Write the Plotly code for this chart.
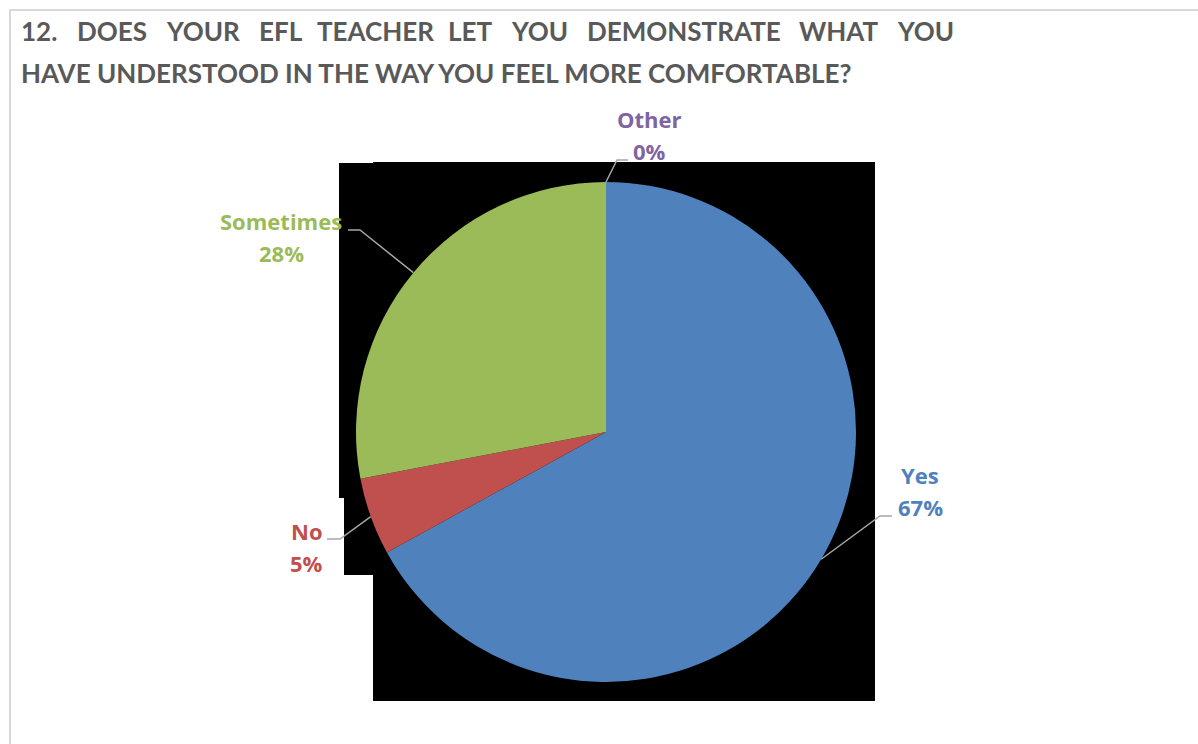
import math
import plotly.graph_objects as go

# Survey answers (percent of respondents)
categories = ["Yes", "No", "Sometimes", "Other"]
percents = [67, 5, 28, 0]
colors = ["#4F81BD", "#C0504D", "#9BBB59", "#8064A2"]

title_line1 = ["12.", "DOES", "YOUR", "EFL", "TEACHER", "LET", "YOU", "DEMONSTRATE", "WHAT", "YOU"]
title_line2 = "HAVE UNDERSTOOD IN THE WAY YOU FEEL MORE COMFORTABLE?"

W, H = 1198, 744
TITLE_FONT = "Lato, Open Sans, sans-serif"
LABEL_FONT = "Open Sans, sans-serif"
TITLE_SIZE = 26


def px(x):
    return x / W


def py(y):
    return 1 - y / H


# Pie placement in pixels
CX, CY, R = 606, 432, 250

fig = go.Figure()
fig.add_trace(go.Pie(
    labels=categories,
    values=percents,
    sort=False,
    direction="clockwise",
    rotation=0,
    marker=dict(colors=colors, line=dict(width=0)),
    textinfo="none",
    hoverinfo="label+percent",
    showlegend=False,
    domain=dict(x=[px(CX - R), px(CX + R)], y=[py(CY + R), py(CY - R)]),
))

shapes = []
# Outer chart-area border
shapes.append(dict(type="rect", xref="paper", yref="paper",
                   x0=px(10), x1=px(W + 5), y0=py(H + 5), y1=py(10),
                   line=dict(color="#D9D9D9", width=2), layer="below"))

# Dark backdrop behind the plot area
pts = [(339, 163), (373, 163), (373, 162), (875, 162), (875, 701), (373, 701),
       (373, 575), (344, 575), (344, 498), (339, 498)]
path = "M " + " L ".join(f"{px(x)},{py(y)}" for x, y in pts) + " Z"
shapes.append(dict(type="path", xref="paper", yref="paper", path=path,
                   fillcolor="#000000", line=dict(width=0), layer="below"))

# Label layout: elbow point, end of horizontal leader, text centre
label_layout = {
    "Yes": dict(elbow=(880, 516), end=(892, 516), text=(920, 491)),
    "No": dict(elbow=(340, 539), end=(327, 539), text=(307, 547)),
    "Sometimes": dict(elbow=(360, 230), end=(348, 230), text=(281, 237)),
    "Other": dict(elbow=(617, 160), end=(628, 160), text=(649, 135)),
}

total = sum(percents)
cum = 0.0
annotations = []
for cat, val, col in zip(categories, percents, colors):
    mid = (cum + val / 2) / total * 2 * math.pi  # clockwise from 12 o'clock
    cum += val
    sx = CX + R * math.sin(mid)
    sy = CY - R * math.cos(mid)
    lay = label_layout[cat]
    ex, ey = lay["elbow"]
    hx, hy = lay["end"]
    shapes.append(dict(type="path", xref="paper", yref="paper",
                       path=f"M {px(sx)},{py(sy)} L {px(ex)},{py(ey)} L {px(hx)},{py(hy)}",
                       line=dict(color="#A6A6A6", width=1.5), layer="above"))
    tx, ty = lay["text"]
    pct = round(val / total * 100)
    lf = dict(family=LABEL_FONT, size=22, color=col)
    for txt, dy in ((cat, -16), (f"{pct}%", 16)):
        annotations.append(dict(
            x=px(tx), y=py(ty + dy), xref="paper", yref="paper",
            text=f"<b>{txt}</b>", showarrow=False, font=lf,
            xanchor="center", yanchor="middle"))

# Title line 1 is justified between x=21 and x=953: approximate word widths
# (bold Lato at 27px) are scaled to the title size and the gaps spread evenly.
approx_w27 = [38, 72, 75, 45, 110, 44, 58, 200, 80, 58]
scale = TITLE_SIZE / 27
widths = [w * scale for w in approx_w27]
x_left, x_right = 21, 953
gap = (x_right - x_left - sum(widths)) / (len(widths) - 1)
title_font = dict(family=TITLE_FONT, size=TITLE_SIZE, color="#595959")
xpos = x_left
for w, wd in zip(title_line1, widths):
    annotations.append(dict(x=px(xpos + wd / 2), y=py(31), xref="paper", yref="paper",
                            text=f"<b>{w}</b>", showarrow=False, font=title_font,
                            xanchor="center", yanchor="middle"))
    xpos += wd + gap
annotations.append(dict(x=px(19), y=py(73), xref="paper", yref="paper",
                        text=f"<b>{title_line2}</b>", showarrow=False, font=title_font,
                        xanchor="left", yanchor="middle"))

fig.update_layout(
    width=W, height=H,
    margin=dict(l=0, r=0, t=0, b=0),
    paper_bgcolor="white",
    plot_bgcolor="white",
    shapes=shapes,
    annotations=annotations,
)

fig.write_html("out.html")
